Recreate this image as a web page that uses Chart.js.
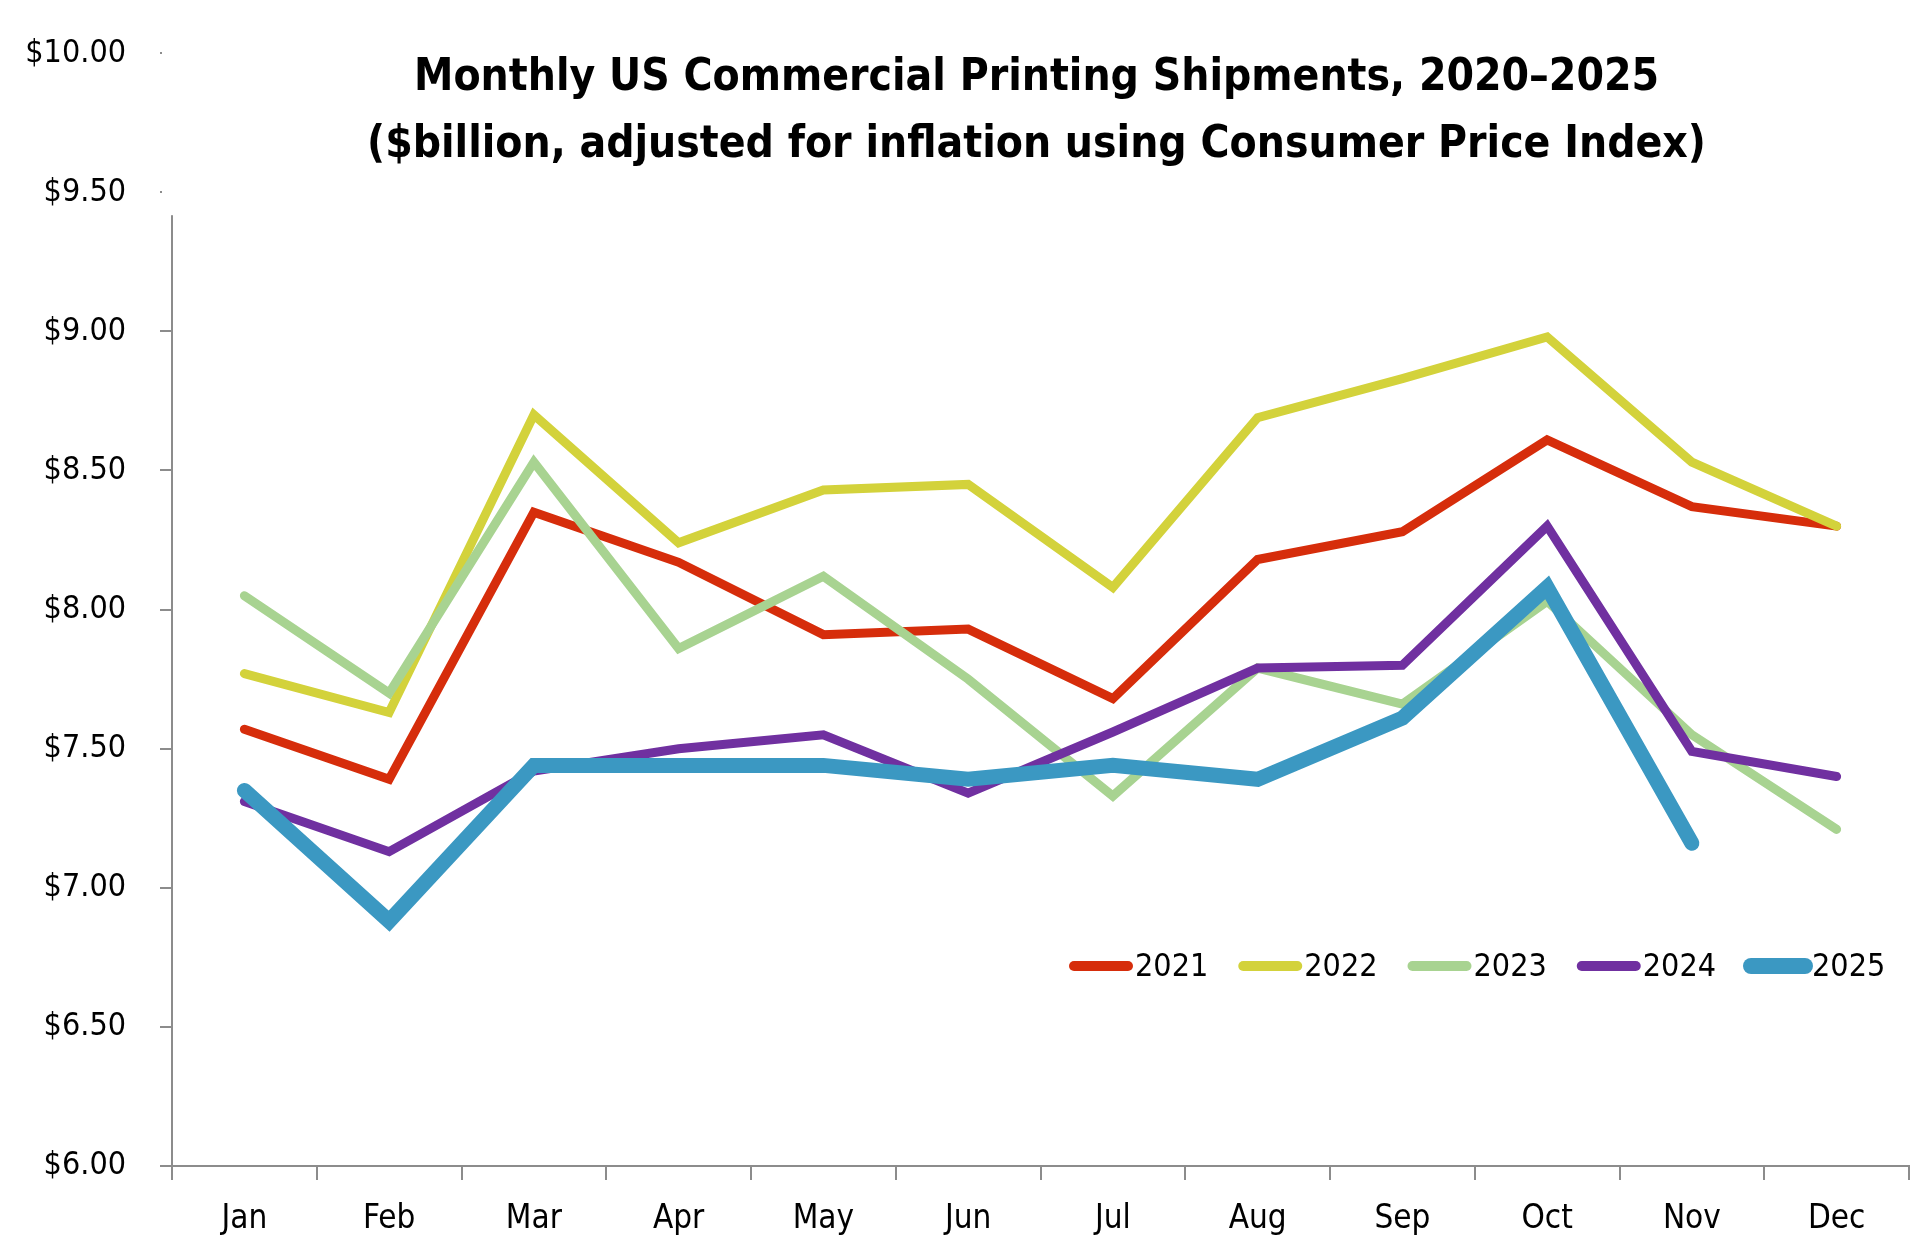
<!DOCTYPE html>
<html>
<head>
<meta charset="utf-8">
<title>Monthly US Commercial Printing Shipments</title>
<script src="https://cdn.jsdelivr.net/npm/chart.js@4.4.1/dist/chart.umd.min.js"></script>
<style>
    html, body { margin: 0; padding: 0; background: #fff; }
    #wrap { width: 1913px; height: 1260px; }
</style>
</head>
<body>
<div id="wrap"><canvas id="chart" width="1913" height="1260"></canvas></div>
<script>
// Categories
const months = ['Jan', 'Feb', 'Mar', 'Apr', 'May', 'Jun', 'Jul', 'Aug', 'Sep', 'Oct', 'Nov', 'Dec'];

// Series values ($billion, CPI adjusted)
const years = ['2021', '2022', '2023', '2024', '2025'];
const ship2021 = [7.57, 7.39, 8.35, 8.17, 7.91, 7.93, 7.68, 8.18, 8.28, 8.61, 8.37, 8.30];
const ship2022 = [7.77, 7.63, 8.70, 8.24, 8.43, 8.45, 8.08, 8.69, 8.83, 8.98, 8.53, 8.30];
const ship2023 = [8.05, 7.70, 8.53, 7.86, 8.12, 7.75, 7.33, 7.79, 7.66, 8.03, 7.55, 7.21];
const ship2024 = [7.31, 7.13, 7.42, 7.50, 7.55, 7.34, 7.56, 7.79, 7.80, 8.30, 7.49, 7.40];
const ship2025 = [7.35, 6.88, 7.44, 7.44, 7.44, 7.39, 7.44, 7.39, 7.61, 8.08, 7.16, null];

// Y axis range
const yMin = 6;
const yMax = 10;
const yStep = 0.5;

const titleLines = [
    'Monthly US Commercial Printing Shipments, 2020\u20132025',
    '($billion, adjusted for inflation using Consumer Price Index)'
];

const FONT = '"DejaVu Sans Condensed", "Liberation Sans Narrow", "Roboto", sans-serif';
const AXIS_GREY = '#8c8c8c';

// Title drawn over the plot (the reference title sits inside the plot area)
// plus the legend row in the lower right
const overlayPlugin = {
    id: 'overlay',
    afterDraw(chart) {
        const ctx = chart.ctx;
        const area = chart.chartArea;
        ctx.save();

        // white title box hides the top of the value axis
        ctx.fillStyle = '#fff';
        ctx.fillRect(area.left - 10, 0, area.right - area.left + 10, area.top + 162);

        ctx.fillStyle = '#000';
        ctx.textAlign = 'center';
        ctx.textBaseline = 'middle';
        ctx.font = 'bold 44px ' + FONT;
        const cx = (area.left + area.right) / 2 - 4;
        ctx.fillText(titleLines[0], cx, 79);
        ctx.fillText(titleLines[1], cx, 146);

        // legend
        ctx.font = '32px ' + FONT;
        ctx.textAlign = 'left';
        let x = 1074;
        const y = 966;
        chart.data.datasets.forEach(ds => {
            ctx.strokeStyle = ds.borderColor;
            ctx.lineWidth = ds.borderWidth + 1;
            ctx.lineCap = 'round';
            ctx.beginPath();
            ctx.moveTo(x, y);
            ctx.lineTo(x + 54, y);
            ctx.stroke();
            ctx.fillStyle = '#000';
            ctx.fillText(ds.label, x + 61, y + 2);
            x += 61 + ctx.measureText(ds.label).width + 35;
        });
        ctx.restore();
    }
};

function makeSet(label, values, color, width, order) {
    return {
        label: label,
        data: values,
        borderColor: color,
        backgroundColor: color,
        borderWidth: width,
        pointRadius: 0,
        tension: 0,
        fill: false,
        borderCapStyle: 'round',
        borderJoinStyle: 'miter',
        order: order
    };
}

const ctx = document.getElementById('chart').getContext('2d');
new Chart(ctx, {
    type: 'line',
    data: {
        labels: months,
        datasets: [
            makeSet(years[0], ship2021, '#d62d0b', 9, 5),
            makeSet(years[1], ship2022, '#d3d23b', 9, 4),
            makeSet(years[2], ship2023, '#a8d391', 9, 3),
            makeSet(years[3], ship2024, '#7030a0', 9, 2),
            makeSet(years[4], ship2025, '#3b98c2', 15, 1)
        ]
    },
    options: {
        responsive: false,
        devicePixelRatio: 1,
        animation: false,
        layout: { padding: { top: 52, right: 4, bottom: 0, left: 0 } },
        plugins: {
            legend: { display: false },
            title: { display: false },
            tooltip: { enabled: false }
        },
        scales: {
            x: {
                offset: true,
                afterFit(scale) { scale.height = 94; },
                grid: {
                    display: true,
                    offset: true,
                    drawOnChartArea: false,
                    tickLength: 14,
                    color: AXIS_GREY,
                    lineWidth: 2
                },
                border: { display: true, color: AXIS_GREY, width: 2 },
                ticks: {
                    color: '#000',
                    font: { family: FONT, size: 33 },
                    padding: 20,
                    maxRotation: 0
                }
            },
            y: {
                min: yMin,
                max: yMax,
                afterFit(scale) { scale.width = 172; },
                grid: {
                    display: true,
                    drawOnChartArea: false,
                    tickLength: 12,
                    color: AXIS_GREY,
                    lineWidth: 2
                },
                border: { display: true, color: AXIS_GREY, width: 2 },
                ticks: {
                    stepSize: yStep,
                    color: '#000',
                    font: { family: FONT, size: 32 },
                    padding: 34,
                    callback: function(value) {
                        return '$' + Number(value).toFixed(2);
                    }
                }
            }
        }
    },
    plugins: [overlayPlugin]
});
</script>
</body>
</html>
